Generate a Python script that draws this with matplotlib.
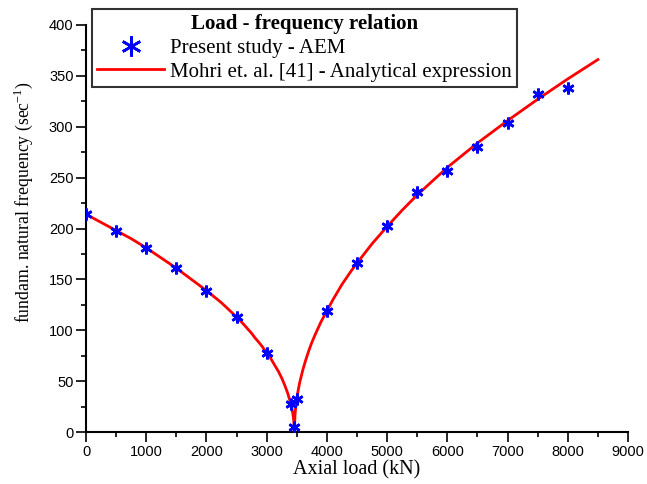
import numpy as np
import matplotlib.pyplot as plt
from matplotlib.ticker import MultipleLocator

# AEM results (axial load in kN, frequency in 1/sec)
load_aem = [0, 500, 1000, 1500, 2000, 2500, 3000, 3400, 3460, 3500,
            4000, 4500, 5000, 5500, 6000, 6500, 7000, 7500, 8000]
freq_aem = [214, 198, 181, 161, 139, 113, 78, 28, 5, 32,
            119, 166, 202, 236, 257, 280, 304, 332, 338]

# analytical curve from Mohri et al.
load_ref = [0, 250, 500, 750, 1000, 1250, 1500, 1750, 2000, 2250, 2500,
            2600, 2750, 2800, 2900, 3000, 3050, 3100, 3150, 3200, 3250,
            3300, 3350, 3400, 3420, 3440, 3450, 3460,
            3470, 3480, 3500, 3520, 3550, 3600, 3650, 3700, 3750, 3800,
            3900, 4000, 4100, 4250, 4400, 4500, 4750, 5000, 5250, 5500,
            6000, 6500, 7000, 7500, 8000, 8500]
freq_ref = [214, 206, 198, 190, 181, 171, 161, 150, 139, 127, 113,
            107, 97, 93, 86, 78, 74, 69, 64, 59, 53,
            46, 38, 28, 23, 16, 11, 0,
            16, 23, 33, 40, 49, 61, 71, 80, 88, 95,
            108, 119, 130, 145, 158, 166, 185, 202, 218, 233,
            260, 284, 306, 327, 347, 366]

plt.rcParams['font.family'] = 'Liberation Serif'

fig = plt.figure(figsize=(6.47, 4.84), dpi=100)
ax = fig.add_axes([86/647, 52/484, 542/647, 407/484])

line, = ax.plot(load_ref, freq_ref, color='red', lw=2, zorder=2)
pts, = ax.plot(load_aem, freq_aem, ls='none', marker=(6, 2, 0), ms=8.5,
               mew=1.9, color='blue', zorder=3)

ax.set_xlim(0, 9000)
ax.set_ylim(0, 400)
ax.xaxis.set_major_locator(MultipleLocator(1000))
ax.xaxis.set_minor_locator(MultipleLocator(500))
ax.yaxis.set_major_locator(MultipleLocator(50))
ax.yaxis.set_minor_locator(MultipleLocator(25))

for s in ['top', 'right']:
    ax.spines[s].set_visible(False)
for s in ['left', 'bottom']:
    ax.spines[s].set_linewidth(1.5)

ax.tick_params(which='major', length=7, width=1.2, direction='out', pad=2)
ax.tick_params(which='minor', length=3.5, width=1.2, direction='out')
for lbl in ax.get_xticklabels() + ax.get_yticklabels():
    lbl.set_family('Liberation Sans')
    lbl.set_fontsize(10.5)

ax.set_xlabel('Axial load (kN)', fontsize=14.5, labelpad=1)
ax.set_ylabel('fundam. natural frequency (sec$^{\\mathregular{-1}}$)',
              fontsize=12.8)
ax.yaxis.set_label_coords(-0.094, 0.565)

leg = fig.legend([pts, line],
                 ['Present study - AEM', 'Mohri et. al. [41] - Analytical expression'],
                 loc='upper left', bbox_to_anchor=(92/647, 1 - 9/484),
                 fontsize=15, title='Load - frequency relation',
                 title_fontproperties={'weight': 'bold', 'size': 15,
                                       'family': 'Liberation Serif'},
                 frameon=True, fancybox=False, edgecolor='black',
                 handlelength=3.2, handletextpad=0.3, borderpad=0.25,
                 labelspacing=0.2, markerscale=1.7, borderaxespad=0)
leg.get_frame().set_linewidth(1.5)

fig.savefig('out.png', dpi=100)
